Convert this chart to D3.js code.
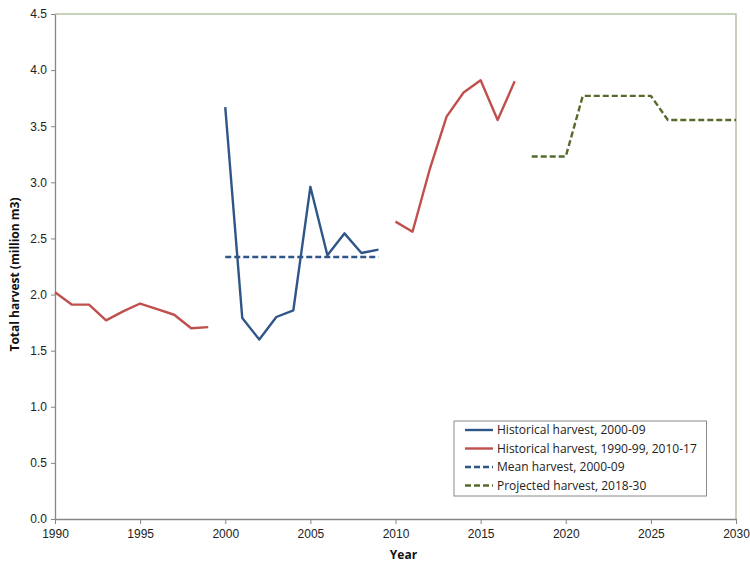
<!DOCTYPE html>
<html>
<head>
<meta charset="utf-8">
<script src="https://cdn.jsdelivr.net/npm/d3@7"></script>
<style>
  html, body { margin: 0; padding: 0; background: #fff; }
  svg { display: block; font-family: "Open Sans", "Noto Sans", sans-serif; }
</style>
</head>
<body>
<svg id="chart" width="750" height="565"></svg>
<script>
// ---- data ----
const yearsA = [1990, 1991, 1992, 1993, 1994, 1995, 1996, 1997, 1998, 1999];
const histA  = [2.02, 1.91, 1.91, 1.77, 1.85, 1.92, 1.87, 1.82, 1.70, 1.71];

const yearsB = [2000, 2001, 2002, 2003, 2004, 2005, 2006, 2007, 2008, 2009];
const histB  = [3.67, 1.79, 1.60, 1.80, 1.86, 2.96, 2.35, 2.545, 2.37, 2.40];

const yearsC = [2010, 2011, 2012, 2013, 2014, 2015, 2016, 2017];
const histC  = [2.65, 2.56, 3.11, 3.585, 3.80, 3.91, 3.555, 3.90];

const meanYears = [2000, 2009];
const meanVals  = [2.334, 2.334];

const projYears = [2018, 2019, 2020, 2021, 2022, 2023, 2024, 2025, 2026, 2027, 2028, 2029, 2030];
const projVals  = [3.23, 3.23, 3.23, 3.77, 3.77, 3.77, 3.77, 3.77, 3.555, 3.555, 3.555, 3.555, 3.555];

const xTicks = [1990, 1995, 2000, 2005, 2010, 2015, 2020, 2025, 2030];
const yTicks = [0, 0.5, 1.0, 1.5, 2.0, 2.5, 3.0, 3.5, 4.0, 4.5];

const legendLabels = [
  "Historical harvest, 2000-09",
  "Historical harvest, 1990-99, 2010-17",
  "Mean harvest, 2000-09",
  "Projected harvest, 2018-30"
];

// ---- styles ----
const BLUE = "#2F5688", RED = "#C0504D", GREEN = "#566A2C";

const svg = d3.select("#chart");
const L = 55, R = 736, T = 14, B = 519;

const x = d3.scaleLinear().domain([1990, 2030]).range([L, R]);
const y = d3.scaleLinear().domain([0, 4.5]).range([B, T]);

// frame (top & right)
svg.append("path")
  .attr("d", `M${L},${T}H${R}V${B}`)
  .attr("fill", "none").attr("stroke", "#B7C2A5").attr("stroke-width", 1.5);

// axes
const xAxis = d3.axisBottom(x).tickValues(xTicks).tickFormat(d3.format("d")).tickSize(5).tickSizeOuter(0);
const yAxis = d3.axisLeft(y).tickValues(yTicks).tickFormat(d3.format(".1f")).tickSize(4).tickSizeOuter(0);

const gx = svg.append("g").attr("transform", `translate(0,${B})`).call(xAxis);
const gy = svg.append("g").attr("transform", `translate(${L},0)`).call(yAxis);
[gx, gy].forEach(g => {
  g.select(".domain").attr("stroke", "#868686").attr("stroke-width", 1.3);
  g.selectAll(".tick line").attr("stroke", "#868686");
  g.selectAll(".tick text").attr("fill", "#222").attr("font-size", 12);
});
gx.selectAll(".tick text").attr("dy", "0.9em");
gy.selectAll(".tick text").attr("x", -8);

// axis titles
svg.append("text").attr("x", (L + R) / 2 + 8).attr("y", 559)
  .attr("text-anchor", "middle").attr("font-weight", "bold").attr("font-size", 12)
  .attr("fill", "#111").text("Year");
svg.append("text").attr("transform", `translate(19,${(T + B) / 2 + 8}) rotate(-90)`)
  .attr("text-anchor", "middle").attr("font-weight", "bold").attr("font-size", 12)
  .attr("fill", "#111").text("Total harvest (million m3)");

const line = d3.line().x(d => x(d[0])).y(d => y(d[1]));
const pairs = (xs, ys) => xs.map((v, i) => [v, ys[i]]);

function draw(data, color, dash) {
  svg.append("path").datum(data)
    .attr("d", line).attr("fill", "none")
    .attr("stroke", color).attr("stroke-width", 2.4)
    .attr("stroke-linejoin", "round")
    .attr("stroke-dasharray", dash || null);
}
draw(pairs(yearsA, histA), RED);
draw(pairs(yearsC, histC), RED);
draw(pairs(meanYears, meanVals), BLUE, "6,3");
draw(pairs(yearsB, histB), BLUE);
draw(pairs(projYears, projVals), GREEN, "6,3");

// legend
const lg = svg.append("g");
lg.append("rect").attr("x", 454).attr("y", 421).attr("width", 252.5).attr("height", 75)
  .attr("fill", "#fff").attr("stroke", "#8A8A8A").attr("stroke-width", 1);
const legendStyles = [[BLUE, null], [RED, null], [BLUE, "6,3"], [GREEN, "6,3"]];
legendLabels.forEach((t, i) => {
  const cy = 430 + i * 18.5;
  lg.append("line").attr("x1", 465).attr("x2", 493).attr("y1", cy).attr("y2", cy)
    .attr("stroke", legendStyles[i][0]).attr("stroke-width", 2.4)
    .attr("stroke-dasharray", legendStyles[i][1]);
  lg.append("text").attr("x", 497).attr("y", cy).attr("dy", "0.35em")
    .attr("font-size", 12).attr("fill", "#222").text(t);
});
</script>
</body>
</html>
